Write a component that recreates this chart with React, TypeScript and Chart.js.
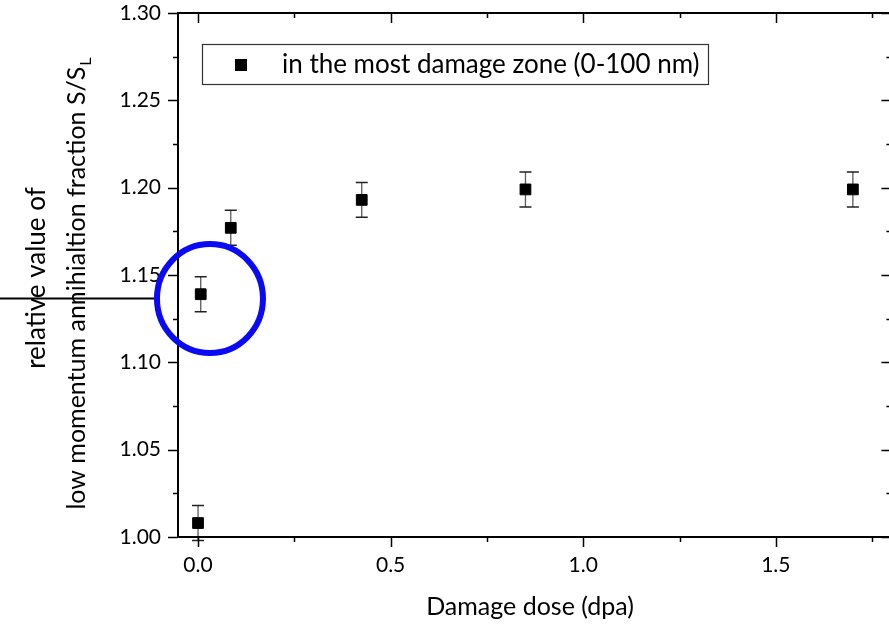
import React, { useEffect, useRef } from "react";
import { Chart, registerables } from "chart.js";

Chart.register(...registerables);

// ---- data ----
const doses = [0, 0.007, 0.085, 0.425, 0.85, 1.7];
const values = [1.008, 1.139, 1.177, 1.193, 1.199, 1.199];
const errors = [0.01, 0.01, 0.01, 0.01, 0.01, 0.01];

const xMajorTicks = [0, 0.5, 1.0, 1.5];
const xTickLabels = ["0.0", "0.5", "1.0", "1.5"];
const xMinorTicks = [0.25, 0.75, 1.25, 1.75];
const yMajorTicks = [1.0, 1.05, 1.1, 1.15, 1.2, 1.25, 1.3];
const yTickLabels = ["1.00", "1.05", "1.10", "1.15", "1.20", "1.25", "1.30"];
const yMinorTicks = [1.025, 1.075, 1.125, 1.175, 1.225, 1.275];

const seriesLabel = "in the most damage zone (0-100 nm)";
const xTitle = "Damage dose (dpa)";
const yTitleLine1 = "relative value of";
const yTitleLine2 = "low momentum annihialtion fraction S/S";
const yTitleSub = "L";

const highlightPoint = { x: 0.031, y: 1.1365 };

const FONT = "Lato, 'Open Sans', sans-serif";

const framePlugin = {
  id: "frame",
  beforeDatasetsDraw(chart: any) {
    const ctx = chart.ctx;
    const xs = chart.scales.x;
    const ys = chart.scales.y;
    ctx.save();
    doses.forEach((d, i) => {
      const px = xs.getPixelForValue(d);
      const top = ys.getPixelForValue(values[i] + errors[i]);
      const bot = ys.getPixelForValue(values[i] - errors[i]);
      ctx.strokeStyle = "#5a5a5a";
      ctx.lineWidth = 1.3;
      ctx.beginPath();
      ctx.moveTo(px, top);
      ctx.lineTo(px, bot);
      ctx.stroke();
      ctx.strokeStyle = "#222";
      ctx.lineWidth = 1.5;
      ctx.beginPath();
      ctx.moveTo(px - 6, top);
      ctx.lineTo(px + 6, top);
      ctx.moveTo(px - 6, bot);
      ctx.lineTo(px + 6, bot);
      ctx.stroke();
    });
    ctx.restore();
  },
  afterDraw(chart: any) {
    const ctx = chart.ctx;
    const xs = chart.scales.x;
    const ys = chart.scales.y;
    const a = chart.chartArea;
    ctx.save();
    // frame
    ctx.strokeStyle = "#000";
    ctx.lineWidth = 2;
    ctx.strokeRect(a.left, a.top, a.right - a.left, a.bottom - a.top);
    ctx.lineWidth = 1.5;
    ctx.beginPath();
    xMajorTicks.forEach((v) => {
      const p = Math.round(xs.getPixelForValue(v)) + 0.5;
      ctx.moveTo(p, a.bottom);
      ctx.lineTo(p, a.bottom + 10);
      ctx.moveTo(p, a.top);
      ctx.lineTo(p, a.top + 10);
    });
    xMinorTicks.forEach((v) => {
      const p = Math.round(xs.getPixelForValue(v)) + 0.5;
      ctx.moveTo(p, a.bottom);
      ctx.lineTo(p, a.bottom + 5);
      ctx.moveTo(p, a.top);
      ctx.lineTo(p, a.top + 5);
    });
    yMajorTicks.forEach((v) => {
      const p = Math.round(ys.getPixelForValue(v)) + 0.5;
      ctx.moveTo(a.left, p);
      ctx.lineTo(a.left - 10, p);
      ctx.moveTo(a.right, p);
      ctx.lineTo(a.right - 10, p);
    });
    yMinorTicks.forEach((v) => {
      const p = Math.round(ys.getPixelForValue(v)) + 0.5;
      ctx.moveTo(a.left, p);
      ctx.lineTo(a.left - 5, p);
      ctx.moveTo(a.right, p);
      ctx.lineTo(a.right - 5, p);
    });
    ctx.stroke();

    // tick labels
    ctx.fillStyle = "#000";
    ctx.font = `21px ${FONT}`;
    ctx.textAlign = "right";
    ctx.textBaseline = "middle";
    yMajorTicks.forEach((v, i) => {
      ctx.fillText(yTickLabels[i], a.left - 17, ys.getPixelForValue(v));
    });
    ctx.textAlign = "center";
    xMajorTicks.forEach((v, i) => {
      ctx.fillText(xTickLabels[i], xs.getPixelForValue(v), a.bottom + 28);
    });

    // axis titles
    ctx.font = `25px ${FONT}`;
    ctx.fillText(xTitle, 530, 607);

    ctx.save();
    ctx.translate(37, 278);
    ctx.rotate(-Math.PI / 2);
    ctx.font = `26px ${FONT}`;
    ctx.fillText(yTitleLine1, 0, 0);
    ctx.restore();

    ctx.save();
    ctx.translate(77, 284);
    ctx.rotate(-Math.PI / 2);
    ctx.font = `25px ${FONT}`;
    const w1 = ctx.measureText(yTitleLine2).width;
    ctx.font = `16px ${FONT}`;
    const w2 = ctx.measureText(yTitleSub).width;
    const start = -(w1 + w2) / 2;
    ctx.textAlign = "left";
    ctx.font = `25px ${FONT}`;
    ctx.fillText(yTitleLine2, start, 0);
    ctx.font = `16px ${FONT}`;
    ctx.fillText(yTitleSub, start + w1 + 1, 9);
    ctx.restore();

    // legend
    ctx.strokeStyle = "#333";
    ctx.lineWidth = 1.2;
    ctx.strokeRect(202.5, 44.5, 506, 40);
    ctx.fillStyle = "#000";
    ctx.fillRect(235, 59, 12, 12);
    ctx.font = `26px ${FONT}`;
    ctx.textAlign = "left";
    ctx.textBaseline = "middle";
    ctx.fillText(seriesLabel, 282, 65);

    // highlight annotation
    const cx = xs.getPixelForValue(highlightPoint.x);
    const cy = ys.getPixelForValue(highlightPoint.y);
    const rx = 53;
    const ry = 54.5;
    ctx.strokeStyle = "#000";
    ctx.lineWidth = 2;
    ctx.beginPath();
    ctx.moveTo(0, cy);
    ctx.lineTo(cx - rx - 3, cy);
    ctx.stroke();
    ctx.strokeStyle = "#0a0af5";
    ctx.lineWidth = 6;
    ctx.beginPath();
    ctx.ellipse(cx, cy, rx, ry, 0, 0, Math.PI * 2);
    ctx.stroke();
    ctx.restore();
  },
};

export default function App() {
  const ref = useRef<HTMLCanvasElement | null>(null);
  useEffect(() => {
    document.body.style.margin = "0";
    document.body.style.overflow = "hidden";
    const canvas = ref.current;
    if (!canvas) return;
    const chart = new Chart(canvas, {
      type: "scatter",
      data: {
        datasets: [
          {
            label: seriesLabel,
            data: doses.map((d, i) => ({ x: d, y: values[i] })),
            pointStyle: "rect",
            pointRadius: 7.6,
            pointBackgroundColor: "#000",
            pointBorderColor: "#000",
            pointBorderWidth: 1,
            showLine: false,
          },
        ],
      },
      options: {
        responsive: false,
        animation: false,
        layout: { padding: { left: 178, top: 13, right: 900 - 893, bottom: 629 - 537 } },
        plugins: { legend: { display: false }, tooltip: { enabled: false } },
        scales: {
          x: { type: "linear", min: -0.052, max: 1.8, display: false },
          y: { type: "linear", min: 1.0, max: 1.3, display: false },
        },
      },
      plugins: [framePlugin],
    });
    return () => chart.destroy();
  }, []);
  return (
    <div style={{ width: 889, height: 629, overflow: "hidden", background: "#fff" }}>
      <canvas ref={ref} width={900} height={629} style={{ display: "block" }} />
    </div>
  );
}
